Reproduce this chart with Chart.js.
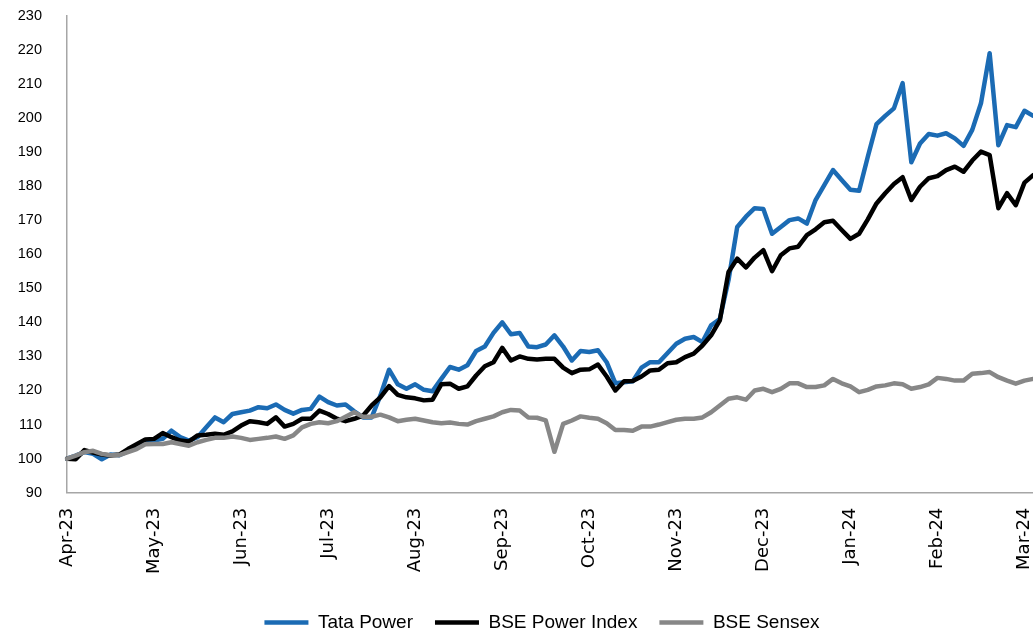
<!DOCTYPE html>
<html>
<head>
<meta charset="utf-8">
<title>Tata Power vs BSE Power Index vs BSE Sensex</title>
<script src="https://cdn.jsdelivr.net/npm/chart.js@4.4.1/dist/chart.umd.min.js"></script>
<style>
  html, body { margin: 0; padding: 0; overflow: hidden; background: #fff; }
  #wrap { position: absolute; left: 0; top: 0; width: 1070px; height: 642px; }
</style>
</head>
<body>
<div id="wrap"><canvas id="chart" width="1070" height="642"></canvas></div>
<script>
'use strict';

// month ticks, one every 10 readings (rebased to 100 on 1 Apr 2023)
const months = ['Apr-23', 'May-23', 'Jun-23', 'Jul-23', 'Aug-23', 'Sep-23',
  'Oct-23', 'Nov-23', 'Dec-23', 'Jan-24', 'Feb-24', 'Mar-24'];
const perMonth = 10;
const slots = 116; // axis runs on past the right edge, which is cropped

const tataPower = [
  100, 100.9, 101.9, 101.4, 99.8, 101.2, 101, 102.2, 103.3, 104.8,
  105.3, 105.8, 108.2, 106.3, 105.3, 106.3, 109.2, 112.1, 110.7, 113.1,
  113.6, 114.1, 115.1, 114.8, 115.9, 114.3, 113.2, 114.3, 114.6, 118.2,
  116.6, 115.6, 115.9, 113.9, 112.1, 112.1, 118.5, 126.1, 121.8, 120.5,
  121.8, 120.2, 119.8, 123.4, 126.9, 126.1, 127.4, 131.6, 132.9, 136.9,
  140, 136.5, 136.9, 132.9, 132.7, 133.5, 136.2, 132.9, 128.8, 131.6,
  131.3, 131.8, 128.3, 122.1, 122.4, 122.7, 126.7, 128.3, 128.3, 131,
  133.7, 135.2, 135.7, 134.2, 139.1, 141, 152.4, 168, 171, 173.5,
  173.3, 166, 168, 170, 170.5, 169, 175.9, 180.3, 184.7, 181.8,
  178.9, 178.6, 188.6, 198.2, 200.6, 202.8, 210.2, 187, 192.5, 195.3,
  194.8, 195.5, 194, 191.8, 196.5, 204.3, 219, 192, 197.9, 197.3,
  202.1, 200.6
];
const bsePower = [
  100, 99.8, 102.5, 101.8, 101.2, 100.9, 101.2, 102.8, 104.2, 105.6,
  105.8, 107.5, 106.3, 105.3, 105, 106.8, 107, 107.3, 107, 108,
  109.7, 111, 110.7, 110.2, 112.1, 109.4, 110.2, 111.7, 111.7, 114.1,
  113.1, 111.7, 111, 111.7, 112.6, 115.6, 118, 121.3, 118.7, 118,
  117.7, 117.1, 117.3, 121.8, 122, 120.5, 121.2, 124.4, 127.1, 128.3,
  132.5, 128.8, 130, 129.3, 129.1, 129.3, 129.3, 126.7, 125.1, 126.1,
  126.2, 127.6, 124.1, 120, 122.7, 122.8, 124.1, 125.9, 126.1, 128,
  128.3, 129.8, 130.8, 133.2, 136.2, 140.6, 154.8, 158.7, 156.1, 159,
  161.2, 155, 159.7, 161.7, 162.2, 165.6, 167.3, 169.4, 169.8, 167.1,
  164.5, 166, 170.2, 174.9, 177.9, 180.6, 182.6, 175.9, 179.8, 182.3,
  182.9, 184.7, 185.7, 184.2, 187.5, 190.1, 189.1, 173.5, 177.9, 174.4,
  181, 183.2
];
const bseSensex = [
  100, 100.9, 101.9, 102.3, 101.4, 101, 101, 101.9, 102.8, 104.2,
  104.3, 104.3, 104.8, 104.3, 103.8, 104.8, 105.5, 106.1, 106.1, 106.5,
  106.1, 105.5, 105.8, 106.1, 106.5, 105.8, 106.8, 109.2, 110.2, 110.7,
  110.4, 111, 112.3, 113.6, 112.3, 112.3, 112.9, 112.1, 111, 111.4,
  111.7, 111.2, 110.7, 110.4, 110.6, 110.2, 110, 111, 111.7, 112.4,
  113.6, 114.3, 114.1, 112.1, 112, 111.2, 102, 110.2, 111.2, 112.4,
  112, 111.7, 110.4, 108.4, 108.4, 108.2, 109.4, 109.4, 110, 110.7,
  111.4, 111.7, 111.7, 112.1, 113.6, 115.6, 117.6, 118, 117.3, 120,
  120.5, 119.5, 120.5, 122.1, 122.1, 121, 121, 121.5, 123.4, 122.1,
  121.2, 119.5, 120.2, 121.2, 121.5, 122.1, 121.8, 120.5, 121, 121.8,
  123.7, 123.4, 122.9, 122.9, 124.9, 125.1, 125.4, 123.9, 122.9, 122,
  122.9, 123.4
];

const yMin = 90, yMax = 230, yStep = 10;

const sans = "'Liberation Sans', Arial, sans-serif";

let labels = [];
for (let i = 0; i < slots; i++) {
  labels.push(i % perMonth === 0 && months[i / perMonth] ? months[i / perMonth] : '');
}

function series(name, values, color, order) {
  return {
    label: name,
    data: values,
    borderColor: color,
    backgroundColor: color,
    borderWidth: 4.5,
    borderCapStyle: 'round',
    borderJoinStyle: 'round',
    pointRadius: 0,
    tension: 0,
    order: order
  };
}

const ctx = document.getElementById('chart');
new Chart(ctx, {
  type: 'line',
  data: {
    labels: labels,
    datasets: [
      series('Tata Power', tataPower, '#1B6BB4', 3),
      series('BSE Power Index', bsePower, '#000000', 2),
      series('BSE Sensex', bseSensex, '#878787', 1)
    ]
  },
  options: {
    responsive: false,
    animation: false,
    layout: { padding: { top: 0, right: 2, left: 16, bottom: 0 } },
    plugins: {
      tooltip: { enabled: false },
      legend: {
        position: 'bottom',
        labels: {
          usePointStyle: true,
          pointStyle: 'line',
          pointStyleWidth: 44,
          padding: 22,
          color: '#000',
          font: { family: sans, size: 19 },
          sort: (a, b) => a.datasetIndex - b.datasetIndex
        }
      }
    },
    scales: {
      x: {
        grid: { display: false },
        border: { color: '#A6A6A6', width: 1.5 },
        ticks: {
          autoSkip: false,
          minRotation: 90,
          maxRotation: 90,
          padding: 7,
          color: '#000',
          font: { family: 'DejaVu Sans', size: 18 }
        },
        afterFit: function(scale) {
          scale.height += 10;
          scale.paddingLeft = 0;
          scale.paddingRight = 0;
        }
      },
      y: {
        min: yMin,
        max: yMax,
        grid: { display: false, tickLength: 18 },
        border: { color: '#A6A6A6', width: 1.5 },
        ticks: {
          stepSize: yStep,
          padding: 7,
          color: '#000',
          font: { family: sans, size: 14.5 }
        },
        afterFit: function(scale) { scale.width = 51; }
      }
    }
  }
});
</script>
</body>
</html>
